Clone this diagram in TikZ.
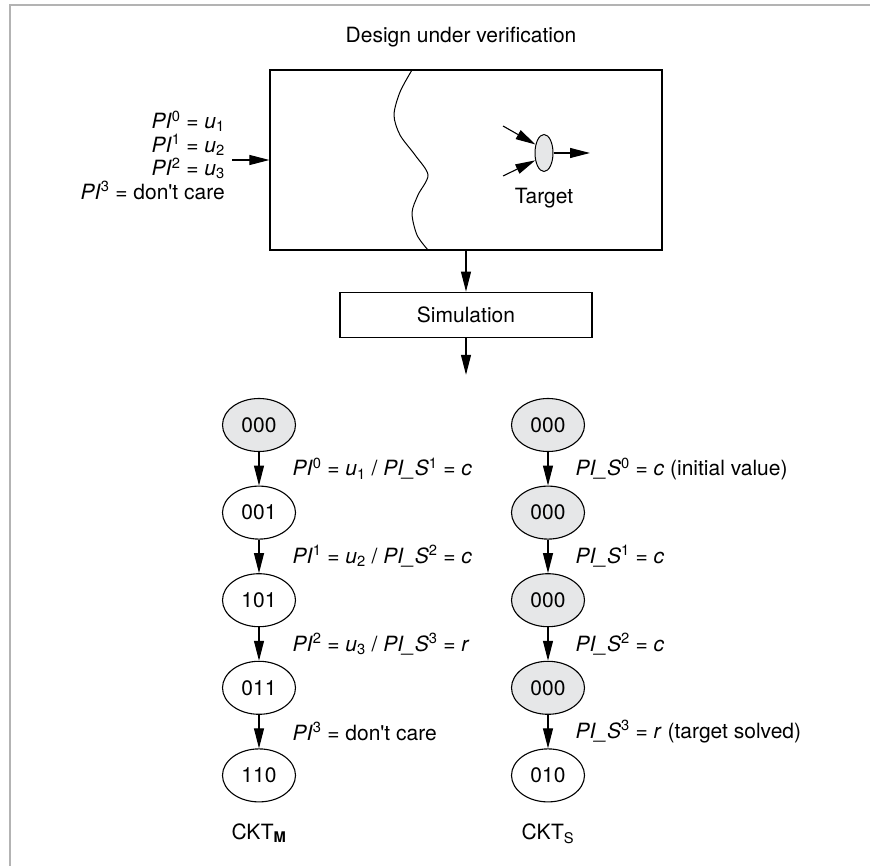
\documentclass[tikz,border=0pt]{standalone}
\usepackage{fontspec}
\setmainfont{TeX Gyre Heros}
\usetikzlibrary{shapes.geometric,arrows.meta,positioning}
\definecolor{stategray}{HTML}{E6E7E8}
\definecolor{framegray}{HTML}{B3B3B3}
\tikzstyle{state} = [ellipse, draw=black, line width=1.1pt, minimum width=73pt, minimum height=53pt, inner sep=0pt]
\tikzstyle{grstate} = [state, fill=stategray]
\tikzstyle{block} = [rectangle, draw=black, line width=1.2pt]
\tikzstyle{arrow} = [line width=1.1pt, -{Triangle[length=20pt,width=10pt]}]
\tikzstyle{lbl} = [anchor=west, inner sep=0pt]
\newcommand{\pin}[1]{\textit{PI}\textsuperscript{#1}}
\newcommand{\pis}[1]{\textit{PI\_S}\textsuperscript{#1}}

\begin{document}
\begin{tikzpicture}[x=1pt, y=-1pt, node distance=33.5pt, font=\fontsize{21pt}{24pt}\selectfont]
\useasboundingbox (0,0) rectangle (870,866);
\draw[framegray, line width=2pt] (870,5) -- (10,5) -- (10,866);

% design under verification
\node(duv)[block, minimum width=392pt, minimum height=180pt] at (466,160) {};
\node(title) at (461,37) {Design under verification};
\draw[line width=1pt] plot[smooth] coordinates {(412,70) (400,92) (394,115) (400,135) (415,155) (428,175) (418,195) (412,213) (417,235) (428,250)};

\node(tgt)[ellipse, draw, fill=stategray, line width=1pt, minimum width=18pt, minimum height=37pt, inner sep=0pt] at (544,153) {};
\node(tgtlbl)[inner sep=0pt, below=16pt of tgt] {Target};
\coordinate (tin1) at (503,126);
\coordinate (tin2) at (503,176);
\coordinate (tout) at (590,153);
\draw[arrow] (tin1) -- (tgt.135);
\draw[arrow] (tin2) -- (tgt.220);
\draw[arrow] (tgt.east) -- (tout);

\node(inputs)[anchor=east, align=right, inner sep=0pt, font=\fontsize{21pt}{23.5pt}\selectfont] at (225,155)
{\pin{0} = \textit{u}\textsubscript{1}\\ \pin{1} = \textit{u}\textsubscript{2}\\
 \pin{2} = \textit{u}\textsubscript{3}\\ \pin{3} = don\textquotesingle t care};
\coordinate (inp) at (232,160);
\draw[arrow] (inp) -- (duv.west);

\node(sim)[block, minimum width=252pt, minimum height=45pt, below=41pt of duv] {Simulation};
\coordinate[below=37pt of sim] (simout);
\draw[arrow] (duv) edge (sim) (sim) edge (simout);

% CKT_M
\node(m0)[grstate] at (259,425) {000};
\node(m1)[state, below=of m0] {001};
\node(m2)[state, below=of m1] {101};
\node(m3)[state, below=of m2] {011};
\node(m4)[state, below=of m3] {110};
\node(ckm)[inner sep=0pt, below=21pt of m4] {CKT\textsubscript{\textbf{M}}};

% CKT_S
\node(s0)[grstate] at (548,425) {000};
\node(s1)[grstate, below=of s0] {000};
\node(s2)[grstate, below=of s1] {000};
\node(s3)[grstate, below=of s2] {000};
\node(s4)[state, below=of s3] {010};
\node(cks)[inner sep=0pt, below=21pt of s4] {CKT\textsubscript{S}};

\draw[arrow] (m0) edge node[lbl, xshift=33pt]{\pin{0} = \textit{u}\textsubscript{1} / \pis{1} = \textit{c}} (m1)
 (m1) edge node[lbl, xshift=33pt]{\pin{1} = \textit{u}\textsubscript{2} / \pis{2} = \textit{c}} (m2)
 (m2) edge node[lbl, xshift=33pt]{\pin{2} = \textit{u}\textsubscript{3} / \pis{3} = \textit{r}} (m3)
 (m3) edge node[lbl, xshift=33pt]{\pin{3} = don\textquotesingle t care} (m4);
\draw[arrow] (s0) edge node[lbl, xshift=27pt]{\pis{0} = \textit{c} (initial value)} (s1)
 (s1) edge node[lbl, xshift=27pt]{\pis{1} = \textit{c}} (s2)
 (s2) edge node[lbl, xshift=27pt]{\pis{2} = \textit{c}} (s3)
 (s3) edge node[lbl, xshift=27pt]{\pis{3} = \textit{r} (target solved)} (s4);

\end{tikzpicture}
\end{document}
